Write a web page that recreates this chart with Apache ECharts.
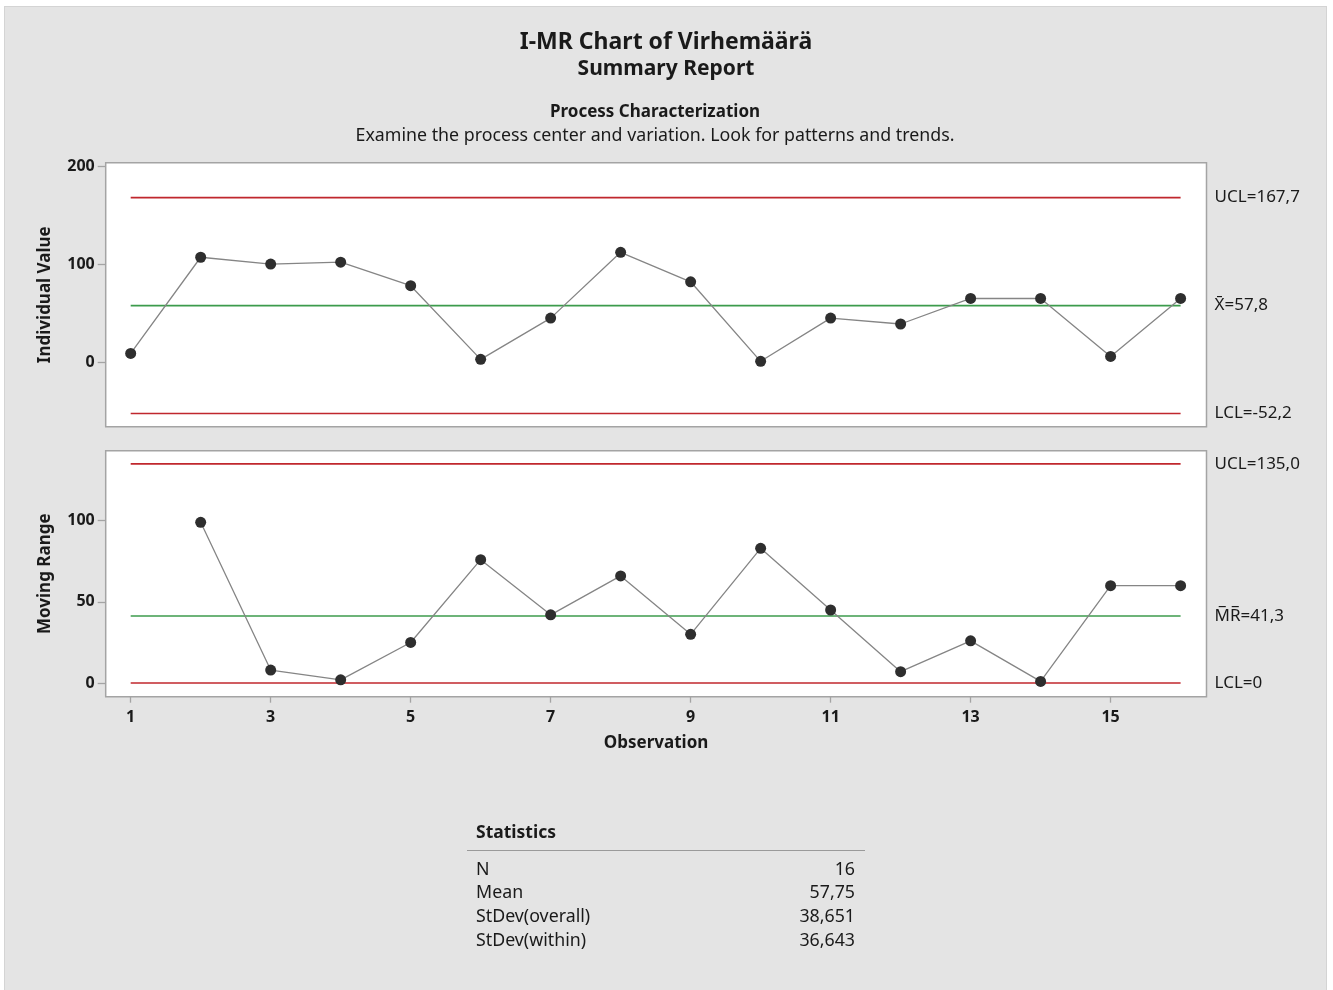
<!DOCTYPE html>
<html>
<head>
<meta charset="utf-8">
<script src="https://cdn.jsdelivr.net/npm/echarts@6/dist/echarts.min.js"></script>
<style>
body{margin:0;background:#fff;}
#bg{position:absolute;left:4px;top:6px;width:1321px;height:984px;background:#e4e4e4;border:1px solid #d4d4d4;}
#main{position:absolute;left:0;top:0;width:1333px;height:990px;}
</style>
</head>
<body>
<div id="bg"></div>
<div id="main"></div>
<script>
// data
var observations=[1,2,3,4,5,6,7,8,9,10,11,12,13,14,15,16];
var individualValues=[9,107,100,102,78,3,45,112,82,1,45,39,65,65,6,65];
var movingRanges=[null,99,8,2,25,76,42,66,30,83,45,7,26,1,60,60];
var iLimits=[167.7,57.75,-52.2];
var iLimitLabels=['UCL=167,7','X\u0304=57,8','LCL=-52,2'];
var mrLimits=[135.0,41.3,0];
var mrLimitLabels=['UCL=135,0','M\u0305R\u0305=41,3','LCL=0'];
var xTicks=[1,3,5,7,9,11,13,15];
var iTicks=[0,100,200];
var mrTicks=[0,50,100];
var statNames=['N','Mean','StDev(overall)','StDev(within)'];
var statValues=['16','57,75','38,651','36,643'];

var FONT='"Noto Sans","Open Sans",sans-serif';
var RED='#c0272d', GREEN='#3c9b4c', BORDER='#a4a4a4', TXT='#1a1a1a';

var pairs=function(xs,ys){
	var out=[];
	for(var i=0;i<xs.length;i++){
		if(ys[i]!==null) out.push([xs[i],ys[i]]);
	}
	return out;
};

var limitSeries=function(vals,labels,axisIdx){
	var list=[];
	var first=observations[0], last=observations[observations.length-1];
	for(var i=0;i<vals.length;i++){
		list.push({
			type:'line',
			xAxisIndex:axisIdx,yAxisIndex:axisIdx,
			data:[[first,vals[i]],[last,vals[i]]],
			symbol:'none',silent:true,z:2,
			lineStyle:{color:i==1?GREEN:RED,width:1.6},
			endLabel:{show:true,formatter:labels[i],distance:34,color:TXT,fontSize:17,fontFamily:FONT}
		});
	}
	return list;
};

var xAxisCommon=function(idx,show){
	return {
		type:'value',gridIndex:idx,min:0.643,max:16.37,
		axisLine:{show:false,onZero:false},
		splitLine:{show:false},
		axisTick:{show:show,inside:false,length:6,customValues:xTicks,lineStyle:{color:BORDER,width:1.3}},
		axisLabel:{show:show,customValues:xTicks,margin:13,color:TXT,fontSize:16,fontWeight:'bold',fontFamily:FONT},
		name:show?'Observation':'',nameLocation:'middle',nameGap:38,
		nameTextStyle:{color:TXT,fontSize:17,fontWeight:'bold',fontFamily:FONT}
	};
};

var yAxisCommon=function(idx,min,max,ticks,name){
	return {
		type:'value',gridIndex:idx,min:min,max:max,
		axisLine:{show:false,onZero:false},
		splitLine:{show:false},
		axisTick:{show:true,inside:false,length:8,customValues:ticks,lineStyle:{color:BORDER,width:1.3}},
		axisLabel:{customValues:ticks,margin:11,color:TXT,fontSize:16,fontWeight:'bold',fontFamily:FONT},
		name:name,nameLocation:'middle',nameGap:52,
		nameTextStyle:{color:TXT,fontSize:17,fontWeight:'bold',fontFamily:FONT}
	};
};

var pointStyle={
	type:'line',symbol:'circle',symbolSize:11,z:5,
	itemStyle:{color:'#2e2e2e'},
	lineStyle:{color:'#858585',width:1.3}
};

var txt=function(s,x,y,size,weight,align){
	return {type:'text',x:x,y:y,silent:true,
		style:{text:s,font:(weight||'normal')+' '+size+'px '+FONT,fill:TXT,
			textAlign:align||'left',align:align||'left',textVerticalAlign:'middle',verticalAlign:'middle'}};
};

var option={};
option.animation=false;
option.grid=[
	{left:105.7,top:162.7,width:1100.8,height:264,show:true,backgroundColor:'#fff',borderColor:BORDER,borderWidth:1.5},
	{left:105.7,top:450.7,width:1100.8,height:246,show:true,backgroundColor:'#fff',borderColor:BORDER,borderWidth:1.5}
];
option.xAxis=[xAxisCommon(0,false),xAxisCommon(1,true)];
option.yAxis=[
	yAxisCommon(0,-65.6,203.3,iTicks,'Individual Value'),
	yAxisCommon(1,-8.4,143.1,mrTicks,'Moving Range')
];
option.series=[].concat(
	limitSeries(iLimits,iLimitLabels,0),
	limitSeries(mrLimits,mrLimitLabels,1),
	[
		Object.assign({},pointStyle,{xAxisIndex:0,yAxisIndex:0,data:pairs(observations,individualValues)}),
		Object.assign({},pointStyle,{xAxisIndex:1,yAxisIndex:1,data:pairs(observations,movingRanges)})
	]
);

var g=[];
g.push(txt('I-MR Chart of Virhem\u00e4\u00e4r\u00e4',666,42.5,23,'bold','center'));
g.push(txt('Summary Report',666,69.5,21,'bold','center'));
g.push(txt('Process Characterization',655,112.5,17,'bold','center'));
g.push(txt('Examine the process center and variation. Look for patterns and trends.',655,135.5,17.8,'normal','center'));
g.push(txt('Statistics',476,833.5,17.5,'bold','left'));
g.push({type:'line',silent:true,shape:{x1:467,y1:850.5,x2:865,y2:850.5},style:{stroke:'#9a9a9a',lineWidth:1.2}});
for(var i=0;i<statNames.length;i++){
	var yy=869.5+i*23.7;
	g.push(txt(statNames[i],476,yy,17.8,'normal','left'));
	g.push(txt(statValues[i],855,yy,17.8,'normal','right'));
}
option.graphic=g;

echarts.init(document.getElementById('main')).setOption(option);
</script>
</body>
</html>
